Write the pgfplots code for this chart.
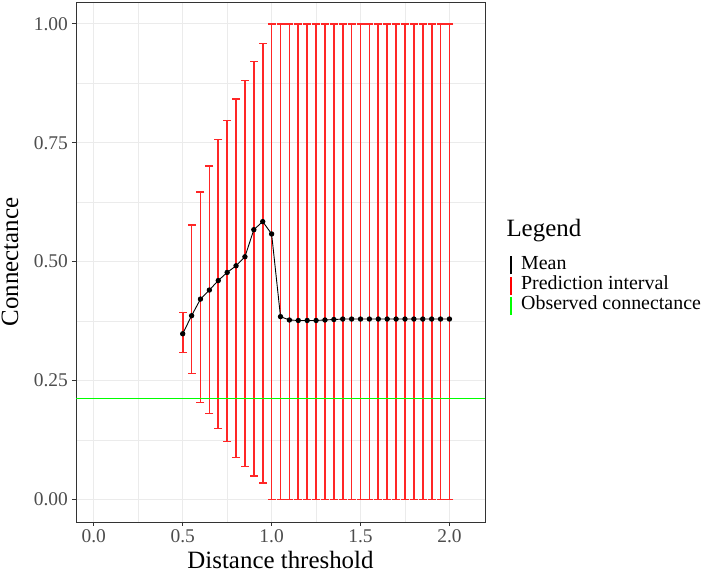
\documentclass[border=0pt]{standalone}
\usepackage{fontspec}
\setmainfont{Liberation Serif}
\usepackage{pgfplots}
\usepackage{pgfplotstable}
\pgfplotsset{compat=1.18}
\definecolor{gridgray}{HTML}{EBEBEB}
\definecolor{ticklab}{HTML}{4D4D4D}
\definecolor{framecol}{HTML}{333333}
\definecolor{gggreen}{HTML}{00FF00}

% mean connectance per distance threshold
\pgfplotstableread{
x    mean
0.50 0.348
0.55 0.386
0.60 0.421
0.65 0.440
0.70 0.460
0.75 0.477
0.80 0.491
0.85 0.510
0.90 0.567
0.95 0.584
1.00 0.558
1.05 0.384
1.10 0.377
1.15 0.376
1.20 0.376
1.25 0.376
1.30 0.377
1.35 0.378
1.40 0.379
1.45 0.379
1.50 0.379
1.55 0.379
1.60 0.379
1.65 0.379
1.70 0.379
1.75 0.379
1.80 0.379
1.85 0.379
1.90 0.379
1.95 0.379
2.00 0.379
}\conn

% prediction intervals: lower end, upper end, gap
\pgfplotstableread[row sep=\\]{
x y\\
0.50 0.308\\ 0.50 0.393\\ 0.50 nan\\
0.55 0.265\\ 0.55 0.577\\ 0.55 nan\\
0.60 0.204\\ 0.60 0.646\\ 0.60 nan\\
0.65 0.181\\ 0.65 0.701\\ 0.65 nan\\
0.70 0.148\\ 0.70 0.757\\ 0.70 nan\\
0.75 0.121\\ 0.75 0.797\\ 0.75 nan\\
0.80 0.088\\ 0.80 0.842\\ 0.80 nan\\
0.85 0.069\\ 0.85 0.881\\ 0.85 nan\\
0.90 0.049\\ 0.90 0.921\\ 0.90 nan\\
0.95 0.034\\ 0.95 0.959\\ 0.95 nan\\
1.00 0\\ 1.00 1\\ 1.00 nan\\
1.05 0\\ 1.05 1\\ 1.05 nan\\
1.10 0\\ 1.10 1\\ 1.10 nan\\
1.15 0\\ 1.15 1\\ 1.15 nan\\
1.20 0\\ 1.20 1\\ 1.20 nan\\
1.25 0\\ 1.25 1\\ 1.25 nan\\
1.30 0\\ 1.30 1\\ 1.30 nan\\
1.35 0\\ 1.35 1\\ 1.35 nan\\
1.40 0\\ 1.40 1\\ 1.40 nan\\
1.45 0\\ 1.45 1\\ 1.45 nan\\
1.50 0\\ 1.50 1\\ 1.50 nan\\
1.55 0\\ 1.55 1\\ 1.55 nan\\
1.60 0\\ 1.60 1\\ 1.60 nan\\
1.65 0\\ 1.65 1\\ 1.65 nan\\
1.70 0\\ 1.70 1\\ 1.70 nan\\
1.75 0\\ 1.75 1\\ 1.75 nan\\
1.80 0\\ 1.80 1\\ 1.80 nan\\
1.85 0\\ 1.85 1\\ 1.85 nan\\
1.90 0\\ 1.90 1\\ 1.90 nan\\
1.95 0\\ 1.95 1\\ 1.95 nan\\
2.00 0\\ 2.00 1\\ 2.00 nan\\
}\intervals

\begin{document}
\begin{tikzpicture}
\useasboundingbox (-76bp,-51bp) rectangle (633bp,522bp);
\begin{axis}[
    at={(0,0)}, anchor=south west,
    scale only axis, width=409bp, height=520bp,
    xmin=-0.1, xmax=2.2, ymin=-0.048, ymax=1.046,
    xtick={0,0.5,1,1.5,2}, ytick={0,0.25,0.5,0.75,1},
    minor x tick num=1, minor y tick num=1,
    grid=both,
    major grid style={gridgray, line width=1bp},
    minor grid style={gridgray, line width=0.5bp},
    tick align=outside, major tick length=4bp, minor tick length=0pt,
    xtick pos=bottom, ytick pos=left,
    tick style={framecol, line width=0.8bp},
    axis line style={framecol, line width=0.6bp},
    /pgf/number format/assume math mode=true,
    ticklabel style={font=\fontsize{19.5}{20}\selectfont, text=ticklab},
    xticklabel style={inner sep=0pt, yshift=-3bp,
        /pgf/number format/.cd, fixed, fixed zerofill, precision=1},
    yticklabel style={inner sep=0pt, xshift=-4bp,
        /pgf/number format/.cd, fixed, fixed zerofill, precision=2},
    xlabel={Distance threshold}, ylabel={Connectance},
    every axis x label/.style={at={(axis description cs:0.5,0)}, anchor=base,
        yshift=-46bp, font=\fontsize{25}{25}\selectfont},
    every axis y label/.style={at={(axis description cs:-0.1418,0.5)}, rotate=90,
        anchor=base, font=\fontsize{25}{25}\selectfont},
    legend style={at={(axis description cs:1.061,0.513)}, anchor=north west,
        draw=none, fill=none, inner sep=0pt, outer sep=0pt,
        row sep=0pt, column sep=9bp,
        font=\fontsize{20}{20}\selectfont,
        nodes={inner sep=0pt, text height=13bp, text depth=5bp}},
    legend cell align=left,
    legend image code/.code={\draw[#1, line width=2.2bp] (0bp,-9bp) -- (0bp,9bp);},
    unbounded coords=jump,
]
% prediction intervals with end caps
\addplot[red!85!white, line width=1.7bp, mark=-, mark size=4bp,
    mark options={solid, line width=1.3bp}, forget plot]
    table[x=x, y=y] {\intervals};
% mean
\addplot[black, line width=0.9bp, mark=*, mark size=2.2bp, forget plot]
    table[x=x, y=mean] {\conn};
% observed connectance
\addplot[gggreen, line width=1.2bp, forget plot]
    coordinates {(-0.1,0.2125) (2.2,0.2125)};

\addlegendimage{black}
\addlegendentry{Mean}
\addlegendimage{red}
\addlegendentry{Prediction interval}
\addlegendimage{gggreen}
\addlegendentry{Observed connectance}
\end{axis}
\node[anchor=base west, font=\fontsize{25}{25}\selectfont] at (427bp,285bp) {Legend};
\end{tikzpicture}
\end{document}
